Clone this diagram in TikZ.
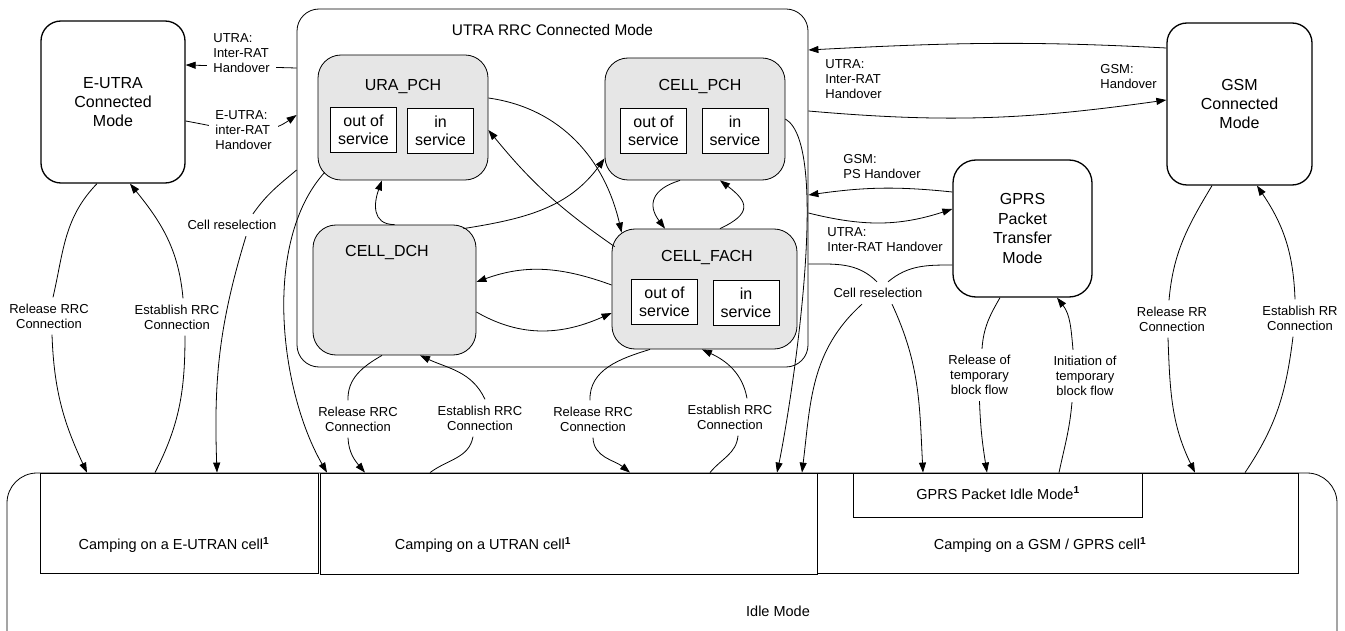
\documentclass[tikz,border=0pt]{standalone}
\usepackage{fontspec}
\setmainfont{Liberation Sans}
\usetikzlibrary{arrows.meta, positioning}
\definecolor{stategray}{RGB}{230,230,230}

\begin{document}
\begin{tikzpicture}[x=1pt, y=-1pt, >={Triangle[length=10pt, width=7pt]}, line width=0.8pt,
  modebox/.style={draw, rounded corners=20pt, line width=1.3pt, align=center, font=\fontsize{16}{19}\selectfont},
  statebox/.style={draw, fill=stategray, rounded corners=23pt},
  servbox/.style={draw, fill=white, minimum width=66pt, minimum height=45pt, inner sep=0pt, align=center, font=\fontsize{16}{18}\selectfont},
  titletext/.style={font=\fontsize{16}{19}\selectfont},
  campbox/.style={draw, inner sep=0pt},
  bigtext/.style={font=\fontsize{14.5}{17}\selectfont},
  lbl/.style={align=center, font=\fontsize{13}{15}\selectfont, inner xsep=2pt, inner ysep=6pt},
  holbl/.style={align=left, font=\fontsize{13}{15}\selectfont, inner xsep=2pt, inner ysep=2pt, anchor=west}]
  \useasboundingbox (0,0) rectangle (1345,631);
  \clip (0,0) rectangle (1345,631);

  % Connected modes of the other systems
  \node[modebox, minimum width=144pt, minimum height=162pt] (eutra) at (113,102) {E-UTRA\\Connected\\Mode};
  \node[modebox, minimum width=145pt, minimum height=162pt] (gsm) at (1239.5,104) {GSM\\Connected\\Mode};
  \node[modebox, rounded corners=23pt, minimum width=139pt, minimum height=137pt, font=\fontsize{16}{19.5}\selectfont] (gprs) at (1022.5,228.5) {GPRS\\Packet\\Transfer\\Mode};

  % UTRA RRC connected mode with its states
  \node[draw, rounded corners=22pt, minimum width=511pt, minimum height=358pt] (rrc) at (552.5,188) {};
  \node[font=\fontsize{15.4}{18}\selectfont] (rrctitle) at ([yshift=-21pt]rrc.north) {UTRA RRC Connected Mode};

  \node[statebox, minimum width=170pt, minimum height=125pt] (ura) at (403,117.5) {};
  \node[statebox, minimum width=180pt, minimum height=122pt] (cellpch) at (695,119) {};
  \node[statebox, minimum width=163pt, minimum height=130pt] (celldch) at (394.5,290) {};
  \node[statebox, minimum width=185pt, minimum height=120pt] (cellfach) at (704.5,289) {};

  \node[titletext] (uratitle) at ([yshift=-32pt]ura.north) {URA\_PCH};
  \node[titletext] (cellpchtitle) at ([xshift=5pt, yshift=-29pt]cellpch.north) {CELL\_PCH};
  \node[titletext] (celldchtitle) at ([xshift=-7.5pt, yshift=-28pt]celldch.north) {CELL\_DCH};
  \node[titletext] (cellfachtitle) at ([xshift=2.5pt, yshift=-29pt]cellfach.north) {CELL\_FACH};

  \node[servbox] (uraout) at (363.5,130) {out of\\service};
  \node[servbox] (urain) at (440.5,131) {in\\service};
  \node[servbox] (pchout) at (653.5,130.5) {out of\\service};
  \node[servbox] (pchin) at (735,130.5) {in\\service};
  \node[servbox] (fachout) at (664.5,301.5) {out of\\service};
  \node[servbox] (fachin) at (746,302.5) {in\\service};

  % Idle mode
  \node[draw, rounded corners=30pt, minimum width=1330pt, minimum height=200pt] (idle) at (672,573) {};
  \node[campbox, minimum width=278pt, minimum height=100pt] (campE) at (179,523) {};
  \node[campbox, minimum width=497pt, minimum height=101pt] (campU) at (568.5,523.5) {};
  \node[campbox, minimum width=481pt, minimum height=100pt] (campG) at (1057.5,523) {};
  \node[campbox, minimum width=289pt, minimum height=44pt] (gprsidle) at (997.5,495) {};
  \node[bigtext] (campEtext) at (174,545) {Camping on a E-UTRAN cell\textsuperscript{\textbf{1}}};
  \node[bigtext] (campUtext) at (483,545) {Camping on a UTRAN cell\textsuperscript{\textbf{1}}};
  \node[bigtext] (campGtext) at (1040,545) {Camping on a GSM / GPRS cell\textsuperscript{\textbf{1}}};
  \node[bigtext] (gprsidletext) at (998,493) {GPRS Packet Idle Mode\textsuperscript{\textbf{1}}};
  \node[bigtext] (idletext) at (778,611) {Idle Mode};

  % Labels that sit on the connectors
  \node[lbl] (cellresel1) at (232,225) {Cell reselection};
  \node[lbl] (cellresel2) at (878,293) {Cell reselection};
  \node[lbl] (relE) at (49,316) {Release RRC\\Connection};
  \node[lbl] (estE) at (177,317) {Establish RRC\\Connection};
  \node[lbl] (relU1) at (358,419) {Release RRC\\Connection};
  \node[lbl] (estU1) at (480,418) {Establish RRC\\Connection};
  \node[lbl] (relU2) at (593,419) {Release RRC\\Connection};
  \node[lbl] (estU2) at (730,417) {Establish RRC\\Connection};
  \node[lbl] (relG) at (1172,319) {Release RR\\Connection};
  \node[lbl] (estG) at (1300,318) {Establish RR\\Connection};
  \node[lbl] (reltbf) at (979.5,375) {Release of\\temporary\\block flow};
  \node[lbl] (inittbf) at (1085,376) {Initiation of\\temporary\\block flow};

  % Handovers
  \draw[->] ([yshift=120pt]rrc.west) -- ([yshift=37pt]eutra.east);
  \draw[->] ([yshift=-19pt]eutra.east) to[out=-10, in=215] ([yshift=73pt]rrc.west);
  \node[holbl, fill=white, inner xsep=6pt] (utraho1) at (207,53) {UTRA:\\Inter-RAT\\Handover};
  \node[holbl, fill=white, inner xsep=6pt] (eutraho) at (209,130) {E-UTRA:\\inter-RAT\\Handover};
  \draw[->] ([yshift=56pt]gsm.west) to[out=177, in=3] ([yshift=138pt]rrc.east);
  \draw[->] ([yshift=77pt]rrc.east) to[out=-5, in=188] ([yshift=4pt]gsm.west);
  \draw[->] ([yshift=36.5pt]gprs.west) to[out=174, in=8] ([yshift=-7pt]rrc.east);
  \draw[->] ([yshift=-25pt]rrc.east) to[out=-14, in=198] ([yshift=19.5pt]gprs.west);
  \node[holbl] (utraho2) at (823,79) {UTRA:\\Inter-RAT\\Handover};
  \node[holbl] (gsmho) at (1098,77) {GSM:\\Handover};
  \node[holbl] (psho) at (841,167) {GSM:\\PS Handover};
  \node[holbl] (utraho3) at (825,240) {UTRA:\\Inter-RAT Handover};

  % Transitions inside UTRA RRC connected mode
  \draw[->] ([yshift=19.5pt]ura.east) to[out=-8, in=103] ([xshift=10pt, yshift=-4pt]cellfach.north west);
  \draw[->] ([xshift=3pt, yshift=-18pt]cellfach.north west) to[bend left=8] ([yshift=-12.5pt]ura.east);
  \draw[->] (celldch.north) to[out=180, in=250, looseness=1.3] ([xshift=-21pt]ura.south);
  \draw[->] ([xshift=-13pt, yshift=-4pt]celldch.north east) to[out=9, in=234] ([yshift=22pt]cellpch.south west);
  \draw[->] ([xshift=-15pt]cellpch.south) to[out=197, in=127, looseness=1.5] ([xshift=-39.5pt]cellfach.north);
  \draw[->] ([xshift=15.5pt]cellfach.north) to[out=25, in=323, looseness=1.9] ([xshift=25pt]cellpch.south);
  \draw[->] ([yshift=4pt]cellfach.west) to[out=160, in=20] ([yshift=8pt]celldch.east);
  \draw[->] ([yshift=-22pt]celldch.east) to[out=-30, in=204] ([yshift=-24pt]cellfach.west);

  % E-UTRA <-> idle
  \draw ([xshift=-16pt]eutra.south) to[out=226, in=77] ([xshift=4pt]relE.north);
  \draw[->] ([xshift=3pt]relE.south) to[out=272, in=115] ([xshift=-92pt]campE.north);
  \draw ([xshift=-24pt]campE.north) to[out=63, in=270] ([xshift=8pt]estE.south);
  \draw[->] ([xshift=6pt]estE.north) to[out=95, in=309] ([xshift=17pt]eutra.south);
  \draw ([yshift=18pt]rrc.west) to[out=220, in=55] ([xshift=21pt]cellresel1.north);
  \draw[->] ([xshift=14pt]cellresel1.south) to[out=253, in=92] ([xshift=38pt]campE.north);

  % UTRA <-> idle
  \draw[->] ([xshift=7pt, yshift=8pt]ura.south west) to[out=228, in=120, looseness=0.8] ([xshift=-241.5pt]campU.north);
  \draw ([xshift=-12.5pt]celldch.south) to[out=210, in=92] ([xshift=-10pt]relU1.north);
  \draw[->] ([xshift=-10pt]relU1.south) to[out=272, in=130] ([xshift=-203.5pt]campU.north);
  \draw ([xshift=-138.5pt]campU.north) to[out=37, in=260] ([xshift=-7pt]estU1.south);
  \draw[->] ([xshift=5pt]estU1.north) to[out=115, in=335] ([xshift=25.5pt]celldch.south);
  \draw ([xshift=-54.5pt]cellfach.south) to[out=197, in=92] ([xshift=-3pt]relU2.north);
  \draw[->] (relU2.south) to[out=272, in=141] ([xshift=61.5pt]campU.north);
  \draw ([xshift=141.5pt]campU.north) to[out=51, in=265] ([xshift=8pt]estU2.south);
  \draw[->] ([xshift=17pt]estU2.north) to[out=100, in=335] ([xshift=-2.5pt]cellfach.south);
  \draw[->] (cellpch.east) to[out=-30, in=78, looseness=0.4] ([xshift=208.5pt]campU.north);

  % cell reselection between UTRA and GSM / GPRS
  \draw ([yshift=-76pt]rrc.east) to[out=0, in=135] ([xshift=-1pt]cellresel2.north);
  \draw ([yshift=-36.5pt]gprs.west) to[out=180, in=40] ([xshift=10pt]cellresel2.north);
  \draw[->] ([xshift=14pt]cellresel2.south) to[out=295, in=93] ([xshift=-74.5pt]gprsidle.north);
  \draw[->] ([xshift=-16pt]cellresel2.south) to[out=222, in=83] ([xshift=233.5pt]campU.north);

  % GPRS and GSM <-> idle
  \draw ([xshift=-22.5pt]gprs.south) to[out=240, in=86] ([xshift=2.5pt]reltbf.north);
  \draw[->] (reltbf.south) to[out=272, in=99] ([xshift=-10.5pt]gprsidle.north);
  \draw ([xshift=61.5pt]gprsidle.north) to[out=78, in=265] ([xshift=-13pt]inittbf.south);
  \draw[->] ([xshift=-12pt]inittbf.north) to[out=95, in=308] ([xshift=34.5pt]gprs.south);
  \draw ([xshift=-27.5pt]gsm.south) to[out=239, in=85] ([xshift=-3pt]relG.north);
  \draw[->] ([xshift=-4pt]relG.south) to[out=272, in=116] ([xshift=137.5pt]campG.north);
  \draw ([xshift=187.5pt]campG.north) to[out=56, in=263] ([xshift=-7pt]estG.south);
  \draw[->] ([xshift=-5pt]estG.north) to[out=92, in=304] ([xshift=17.5pt]gsm.south);
\end{tikzpicture}
\end{document}
